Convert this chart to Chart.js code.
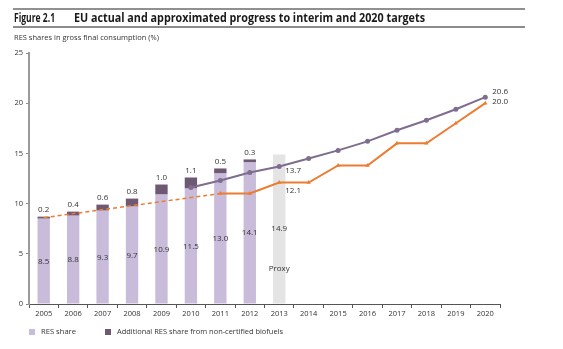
<!DOCTYPE html>
<html>
<head>
<meta charset="utf-8">
<script src="https://cdn.jsdelivr.net/npm/chart.js@4/dist/chart.umd.min.js"></script>
<style>
    body { margin: 0; background: #ffffff; }
    #chart-wrap { position: relative; width: 563px; height: 349px; }
</style>
</head>
<body>
<div id="chart-wrap"><canvas id="res-progress-chart"></canvas></div>
<script>
// categories
const years = ["2005", "2006", "2007", "2008", "2009", "2010", "2011", "2012",
    "2013", "2014", "2015", "2016", "2017", "2018", "2019", "2020"];

// bars (%)
const resShare = [8.5, 8.8, 9.3, 9.7, 10.9, 11.5, 13.0, 14.1, null, null, null, null, null, null, null, null];
const biofuelShare = [0.2, 0.4, 0.6, 0.8, 1.0, 1.1, 0.5, 0.3, null, null, null, null, null, null, null, null];
const proxyShare = [null, null, null, null, null, null, null, null, 14.9, null, null, null, null, null, null, null];

// trajectories (%)
const nreapTrajectory = [null, null, null, null, null, 11.6, 12.3, 13.1, 13.7, 14.5, 15.3, 16.2, 17.3, 18.3, 19.4, 20.6];
const indicativeTrajectory = [null, null, null, null, null, null, 11.0, 11.0, 12.1, 12.1, 13.8, 13.8, 16.0, 16.0, 18.0, 20.0];
const earlyTrajectory = [8.6, null, null, null, null, null, 11.0, null, null, null, null, null, null, null, null, null];

// which points get a value label
const lineLabelIndexes = [8, 15];

const titleNumber = "Figure 2.1";
const titleText = "EU actual and approximated progress to interim and 2020 targets";
const subtitleText = "RES shares in gross final consumption (%)";
const proxyText = "Proxy";

const lightPurple = "#c9bcdb";
const darkPurple = "#6f5872";
const proxyGrey = "#e4e4e4";
const lineviolet = "#7e6d8f";
const lineOrange = "#ec7c30";
const textColor = "#333333";
const labelFont = '8px "Open Sans", sans-serif';

// draws title, rules, value labels and legend
const figureTextPlugin = {
    id: "figureText",
    afterDatasetsDraw(chart) {
        const ctx = chart.ctx;
        const x = chart.scales.x;
        const y = chart.scales.y;
        ctx.save();
        ctx.font = labelFont;
        ctx.fillStyle = textColor;
        ctx.textAlign = "center";
        ctx.textBaseline = "middle";

        // values inside the RES bars
        resShare.forEach((v, i) => {
            if (v === null) return;
            ctx.fillText(v.toFixed(1), x.getPixelForValue(i), y.getPixelForValue(v / 2));
        });
        // additional share on top of the bars
        biofuelShare.forEach((v, i) => {
            if (v === null) return;
            ctx.fillText(v.toFixed(1), x.getPixelForValue(i), y.getPixelForValue(resShare[i] + v) - 7);
        });
        // proxy bar
        proxyShare.forEach((v, i) => {
            if (v === null) return;
            ctx.fillText(v.toFixed(1), x.getPixelForValue(i), y.getPixelForValue(v / 2));
            ctx.fillText(proxyText, x.getPixelForValue(i), y.getPixelForValue(3.5));
        });

        // trajectory labels
        ctx.textAlign = "left";
        lineLabelIndexes.forEach((i) => {
            const px = x.getPixelForValue(i);
            const last = i === years.length - 1;
            ctx.fillText(nreapTrajectory[i].toFixed(1), px + (last ? 7 : 6), y.getPixelForValue(nreapTrajectory[i]) + (last ? -5 : 4));
            ctx.fillText(indicativeTrajectory[i].toFixed(1), px + (last ? 7 : 6), y.getPixelForValue(indicativeTrajectory[i]) + (last ? -1 : 8));
        });
        ctx.restore();
    },
    afterDraw(chart) {
        const ctx = chart.ctx;
        ctx.save();

        // header rules
        ctx.fillStyle = "#222222";
        ctx.fillRect(13, 8.5, 512, 1);
        ctx.fillStyle = "#8c8c8c";
        ctx.fillRect(13, 26, 512, 2);

        // title
        ctx.fillStyle = "#1a1a1a";
        ctx.textBaseline = "alphabetic";
        ctx.textAlign = "left";
        ctx.font = 'bold 12px "Open Sans", sans-serif';
        ctx.fillText(titleNumber, 14, 21.5, 41);
        ctx.fillText(titleText, 74, 21.5, 351);

        // subtitle
        ctx.fillStyle = textColor;
        ctx.font = '7.5px "Open Sans", sans-serif';
        ctx.fillText(subtitleText, 14, 40, 160);

        // legend
        ctx.textBaseline = "middle";
        ctx.fillStyle = lightPurple;
        ctx.fillRect(29, 329, 6, 6);
        ctx.fillStyle = darkPurple;
        ctx.fillRect(105, 329, 6, 6);
        ctx.fillStyle = textColor;
        ctx.font = '8px "Open Sans", sans-serif';
        ctx.fillText("RES share", 41, 332, 35);
        ctx.fillText("Additional RES share from non-certified biofuels", 117, 332, 166);
        ctx.restore();
    }
};

const chartCanvas = document.getElementById("res-progress-chart");

const resProgressChart = new Chart(chartCanvas, {
    type: "bar",
    data: {
        labels: years,
        datasets: [
            {
                type: "line",
                label: "NREAP trajectory",
                data: nreapTrajectory,
                stack: "nreap",
                order: 0,
                borderColor: lineviolet,
                backgroundColor: lineviolet,
                borderWidth: 2,
                pointStyle: "circle",
                pointRadius: 2.5,
                pointBorderWidth: 0,
                tension: 0,
            },
            {
                type: "line",
                label: "Indicative trajectory",
                data: indicativeTrajectory,
                stack: "indicative",
                order: 0,
                borderColor: lineOrange,
                backgroundColor: lineOrange,
                borderWidth: 2,
                pointStyle: "triangle",
                pointRadius: 2.5,
                pointBorderWidth: 0,
                tension: 0,
            },
            {
                type: "line",
                label: "Indicative trajectory (early)",
                data: earlyTrajectory,
                stack: "early",
                order: 0,
                spanGaps: true,
                borderColor: lineOrange,
                borderWidth: 1.5,
                borderDash: [4, 3],
                pointRadius: 0,
                tension: 0,
            },
            {
                label: "RES share",
                data: resShare,
                stack: "bars",
                order: 1,
                backgroundColor: lightPurple,
                borderWidth: 0,
                barPercentage: 0.42,
                categoryPercentage: 1,
            },
            {
                label: "Additional RES share from non-certified biofuels",
                data: biofuelShare,
                stack: "bars",
                order: 1,
                backgroundColor: darkPurple,
                borderWidth: 0,
                barPercentage: 0.42,
                categoryPercentage: 1,
            },
            {
                label: "Proxy",
                data: proxyShare,
                stack: "bars",
                order: 1,
                backgroundColor: proxyGrey,
                borderWidth: 0,
                barPercentage: 0.42,
                categoryPercentage: 1,
            },
        ],
    },
    options: {
        responsive: true,
        maintainAspectRatio: false,
        animation: false,
        layout: {
            padding: { top: 53, right: 63, bottom: 25, left: 0 },
        },
        scales: {
            x: {
                stacked: true,
                offset: true,
                grid: {
                    offset: true,
                    drawOnChartArea: false,
                    drawTicks: true,
                    tickLength: 4,
                    color: "#555555",
                },
                border: { display: true, color: "#555555", width: 1 },
                ticks: {
                    color: textColor,
                    font: { family: "Open Sans", size: 7.5 },
                    padding: 1,
                    maxRotation: 0,
                    autoSkip: false,
                },
                afterFit(scale) {
                    scale.height = 20;
                },
            },
            y: {
                stacked: true,
                min: 0,
                max: 25,
                grid: {
                    drawOnChartArea: false,
                    drawTicks: true,
                    tickLength: 3,
                    color: "#888888",
                },
                border: { display: true, color: "#9a9a9a", width: 2 },
                ticks: {
                    stepSize: 5,
                    color: textColor,
                    font: { family: "Open Sans", size: 7.5 },
                    padding: 3,
                },
                afterFit(scale) {
                    scale.width = 29;
                },
            },
        },
        plugins: {
            legend: { display: false },
            title: { display: false },
            tooltip: { enabled: false },
        },
    },
    plugins: [figureTextPlugin],
});
</script>
</body>
</html>
